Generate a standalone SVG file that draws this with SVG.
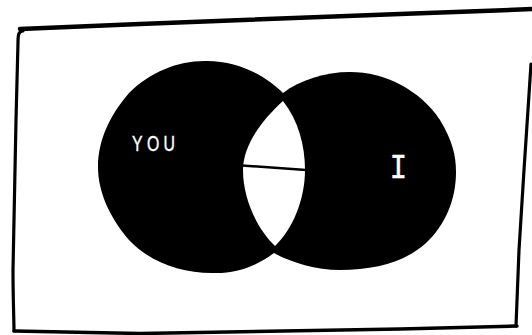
<svg xmlns="http://www.w3.org/2000/svg" width="532" height="335" viewBox="0 0 532 335">
  <style>
    .edge { fill: none; stroke: #000; stroke-linecap: round; stroke-linejoin: round; }
    .blob { fill: #000; }
    .lbl { fill: #fff; stroke: #fff; }
  </style>
  <rect width="532" height="335" fill="#fff"/>
  <g id="frame">
    <path class="edge" stroke-width="4.5" d="M20,29 L140,24 L400,14 L534,9"/>
    <path class="edge" stroke-width="3.2" d="M23,31 C19,31 18,34 18,42 L16,120 L13,270 C13,300 14,320 14,331"/>
    <path class="edge" stroke-width="3.5" d="M14,331 L140,333.5 L400,329 L517,326"/>
    <path class="edge" stroke-width="3.2" d="M531,64 L524,170 L519,250 L516,326"/>
  </g>
  <g id="node-you">
    <path class="blob" d="M204,61 C240,60 268,78 283,93 C298,112 307,140 307,170 C307,205 293,235 274,253 C255,267 235,274 212,273 C180,273 150,262 129,240 C110,218 98,192 98,167 C98,140 110,115 129,93 C150,72 178,61 204,61 Z"/>
    <text class="lbl" stroke-width="0.4" transform="translate(132,150.5) scale(0.72,1)" font-family="Liberation Sans, Arial, sans-serif" font-size="22" letter-spacing="6">YOU</text>
  </g>
  <g id="node-i">
    <path class="blob" d="M283,93 C300,80 325,72 350,72 C385,72 420,90 440,120 C452,140 456,155 456,172 C456,200 445,225 426,243 C405,262 375,270 340,270 C315,270 290,262 274,253 C255,230 241,200 241,170 C241,140 260,112 283,93 Z"/>
    <text class="lbl" stroke-width="0.5" transform="translate(398.5,177.5) scale(0.8,1)" text-anchor="middle" font-family="Liberation Mono, Courier New, monospace" font-size="36">I</text>
  </g>
  <g id="node-intersection">
    <path fill="#fff" d="M283,101 C262,120 243,145 243,170 C243,200 258,230 275,246 C292,230 305,200 305,170 C305,145 298,120 283,101 Z"/>
  </g>
  <g id="connectors">
    <path class="edge" stroke-width="2.5" d="M242,165.5 L306,170"/>
  </g>
</svg>
